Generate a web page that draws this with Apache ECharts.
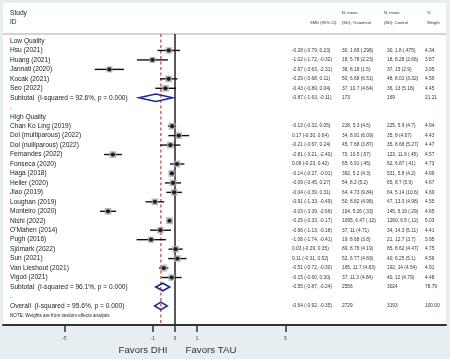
<!DOCTYPE html>
<html><head><meta charset="utf-8">
<script src="https://cdn.jsdelivr.net/npm/echarts@6/dist/echarts.min.js"></script>
<style>
html,body{margin:0;padding:0;background:#e7eef1;}
#panel{position:absolute;left:3px;top:3px;width:443px;height:322px;background:#fff;}
#c{position:absolute;left:0;top:0;width:450px;height:359px;}
</style>
</head><body><div id="panel"></div><div id="c"></div>
<script>
// ---- Data ----
const lowStudies = ["Hsu (2021)", "Huang (2021)", "Jannati (2020)", "Kocak (2021)", "Seo (2022)"];
const lowSmd = [-0.28, -1.02, -2.97, -0.29, -0.43];
const lowLo = [-0.79, -1.72, -3.63, -0.68, -0.89];
const lowHi = [0.23, -0.32, -2.31, 0.11, 0.04];
const lowTreat = ["30, 1.69 (.298)", "18, 5.78 (2.23)", "38, 8.18 (1.5)", "50, 6.68 (6.51)", "37, 10.7 (4.64)"];
const lowCtrl = ["30, 1.8 (.475)", "18, 8.28 (2.66)", "37, 15 (2.9)", "48, 8.01 (3.32)", "36, 13 (5.18)"];
const lowWeight = [4.34, 3.87, 3.95, 4.59, 4.45];
const lowSubtotal = {label: "Subtotal  (I-squared = 92.6%, p = 0.000)", est: -0.87, lo: -1.63, hi: -0.11, treat: "173", ctrl: "169", w: 21.21};

const highStudies = ["Chan Ko Ling (2019)", "Dol (multiparous) (2022)", "Dol (nulliparous) (2022)", "Fernandes (2022)", "Fonseca (2020)", "Haga (2018)", "Heller (2020)", "Jiao (2019)", "Loughan (2019)", "Monteiro (2020)", "Nishi (2022)", "O'Mahen (2014)", "Pugh (2016)", "Sjömark (2022)", "Sun (2021)", "Van Lieshout (2021)", "Vigod (2021)"];
const highSmd = [-0.13, 0.17, -0.21, -2.81, 0.09, -0.14, -0.09, -0.04, -0.91, -3.03, -0.25, -0.66, -1.08, 0.03, 0.11, -0.51, -0.15];
const highLo = [-0.32, -0.30, -0.67, -3.21, -0.23, -0.27, -0.45, -0.39, -1.33, -3.39, -0.33, -1.13, -1.74, -0.29, -0.31, -0.72, -0.60];
const highHi = [0.05, 0.64, 0.24, -2.40, 0.42, -0.01, 0.27, 0.31, -0.49, -2.66, -0.17, -0.18, -0.41, 0.35, 0.52, -0.30, 0.30];
const highTreat = ["218, 5.3 (4.6)", "34, 8.91 (6.09)", "45, 7.68 (3.87)", "70, 10.5 (.57)", "65, 6.91 (.45)", "392, 5.2 (4.3)", "54, 8.2 (5.2)", "64, 4.73 (9.84)", "50, 8.82 (4.98)", "104, 5.26 (.33)", "1095, 6.47 (.12)", "37, 11 (4.71)", "19, 8.68 (3.8)", "89, 8.76 (4.19)", "52, 6.77 (4.69)", "165, 11.7 (4.83)", "37, 11.3 (4.84)"];
const highCtrl = ["225, 5.9 (4.7)", "35, 8 (4.67)", "35, 8.68 (5.27)", "123, 11.9 (.45)", "62, 6.87 (.41)", "531, 5.8 (4.2)", "65, 8.7 (5.9)", "64, 5.14 (10.6)", "47, 13.3 (4.98)", "145, 6.19 (.29)", "1260, 6.5 (.12)", "34, 14.3 (5.11)", "21, 12.7 (3.7)", "85, 8.62 (4.47)", "40, 6.25 (5.1)", "192, 14 (4.54)", "40, 12 (4.79)"];
const highWeight = [4.94, 4.43, 4.47, 4.57, 4.73, 4.99, 4.67, 4.69, 4.55, 4.65, 5.03, 4.41, 3.95, 4.75, 4.56, 4.91, 4.48];
const highSubtotal = {label: "Subtotal  (I-squared = 96.1%, p = 0.000)", est: -0.55, lo: -0.87, hi: -0.24, treat: "2556", ctrl: "3024", w: 78.79};

const overall = {label: "Overall  (I-squared = 95.6%, p = 0.000)", est: -0.64, lo: -0.92, hi: -0.35, treat: "2729", ctrl: "3193", w: 100.00};
const noteText = "NOTE: Weights are from random effects analysis";
const tickValues = [-5, -1, 0, 1, 5];

// ---- Build rows ----
const rows = [];
function addGroup(name, studies, smd, lo, hi, tr, ct, w, sub) {
  rows.push({kind: 'group', label: name});
  studies.forEach((s, i) => rows.push({kind: 'study', label: s, est: smd[i], lo: lo[i], hi: hi[i], treat: tr[i], ctrl: ct[i], w: w[i]}));
  rows.push(Object.assign({kind: 'sub'}, sub));
  rows.push({kind: 'blank', label: '.'});
}
addGroup('Low Quality', lowStudies, lowSmd, lowLo, lowHi, lowTreat, lowCtrl, lowWeight, lowSubtotal);
addGroup('High Quality', highStudies, highSmd, highLo, highHi, highTreat, highCtrl, highWeight, highSubtotal);
rows.push(Object.assign({kind: 'overall'}, overall));
rows.push({kind: 'note', label: noteText});

const FF = '"Liberation Sans", Arial, sans-serif';
const yTop = -0.74, yBot = 30.02;
const fmt = v => v.toFixed(2);

const studyIdx = [], diaIdx = [];
rows.forEach((r, i) => {
  if (r.kind === 'study') studyIdx.push(i);
  if (r.kind === 'sub' || r.kind === 'overall') diaIdx.push(i);
});

const HF = 4.1; // header column font
const hdr = (text, x, y) => ({type: 'text', x: x, y: y, style: {text: text, fontSize: HF, fontFamily: FF, fill: '#333', verticalAlign: 'middle'}});

const chart = echarts.init(document.getElementById('c'), null, {renderer: 'canvas'});
chart.setOption({
  backgroundColor: 'transparent',
  animation: false,
  grid: {left: 3, right: 4, top: 3, height: 322, containLabel: false},
  xAxis: {
    type: 'value', min: -7.783, max: 12.262,
    splitLine: {show: false},
    axisLine: {show: true, onZero: false, lineStyle: {color: '#333', width: 2}},
    axisTick: {show: true, customValues: tickValues, length: 7, lineStyle: {color: '#333', width: 1.5}},
    axisLabel: {show: true, customValues: tickValues, fontSize: 4.5, margin: 11, color: '#333', fontFamily: FF}
  },
  yAxis: {type: 'value', inverse: true, min: -4.017, max: 30.02, show: false},
  graphic: [
    {type: 'line', shape: {x1: 3, y1: 34, x2: 446, y2: 34}, style: {stroke: '#c4c4c4', lineWidth: 1.5}, silent: true},
    {type: 'text', x: 10, y: 13, style: {text: 'Study', fontSize: 6.6, fontFamily: FF, fill: '#222', verticalAlign: 'middle'}},
    {type: 'text', x: 10, y: 22, style: {text: 'ID', fontSize: 6.6, fontFamily: FF, fill: '#222', verticalAlign: 'middle'}},
    hdr('SMD (95% CI)', 310, 23),
    hdr('N, mean', 342, 12.5),
    hdr('(SD); Treatment', 342, 23),
    hdr('N, mean', 384, 12.5),
    hdr('(SD); Control', 384, 23),
    hdr('%', 427, 12.5),
    hdr('Weight', 427, 23),
    {type: 'text', x: 143, y: 350, style: {text: 'Favors DHI', fontSize: 9.7, fontFamily: FF, fill: '#333', align: 'center', verticalAlign: 'middle'}},
    {type: 'text', x: 211, y: 350, style: {text: 'Favors TAU', fontSize: 9.7, fontFamily: FF, fill: '#333', align: 'center', verticalAlign: 'middle'}}
  ],
  series: [
    {type: 'line', silent: true, symbol: 'none', data: [[0, yTop], [0, yBot]], lineStyle: {color: '#222', width: 1.5}, z: 1},
    {type: 'line', silent: true, symbol: 'none', data: [[overall.est, yTop], [overall.est, yBot]], lineStyle: {color: '#c0504d', width: 1.3, type: [3, 2.5]}, z: 1},
    {
      type: 'custom', silent: true, z: 3,
      data: studyIdx.map(i => [rows[i].lo, rows[i].hi, i]),
      encode: {x: [0, 1], y: 2},
      renderItem: (p, api) => {
        const a = api.coord([api.value(0), api.value(2)]);
        const b = api.coord([api.value(1), api.value(2)]);
        return {type: 'line', shape: {x1: a[0], y1: a[1], x2: b[0], y2: b[1]}, style: {stroke: '#111', lineWidth: 1.4}};
      }
    },
    {
      type: 'scatter', silent: true, z: 4, symbol: 'rect',
      data: studyIdx.map(i => [rows[i].est, i, rows[i].w]),
      symbolSize: v => 3.1 * Math.sqrt(v[2]),
      itemStyle: {color: '#a8a8a8'}
    },
    {
      type: 'scatter', silent: true, z: 5, symbol: 'circle', symbolSize: 4.2,
      data: studyIdx.map(i => [rows[i].est, i]),
      itemStyle: {color: '#000'}
    },
    {
      type: 'custom', silent: true, z: 5,
      data: diaIdx.map(i => [rows[i].est, rows[i].lo, rows[i].hi, i]),
      encode: {x: [0, 1, 2], y: 3},
      renderItem: (p, api) => {
        const r = api.value(3);
        const pts = [
          api.coord([api.value(1), r]),
          api.coord([api.value(0), r - 0.4]),
          api.coord([api.value(2), r]),
          api.coord([api.value(0), r + 0.4])
        ];
        return {type: 'polygon', shape: {points: pts}, style: {fill: 'none', stroke: '#1c2a8c', lineWidth: 1.6}};
      }
    },
    {
      type: 'custom', silent: true, z: 6,
      data: rows.map((r, i) => [0, i]),
      encode: {x: 0, y: 1},
      renderItem: (p, api) => {
        const r = rows[p.dataIndex];
        const y = api.coord([0, p.dataIndex])[1];
        const kids = [];
        const big = {fontFamily: FF, fill: '#222', verticalAlign: 'middle', align: 'left'};
        const small = {fontFamily: FF, fill: '#333', verticalAlign: 'middle', align: 'left', fontSize: 4.8};
        kids.push({type: 'text', style: Object.assign({}, big, {text: r.label, x: 10, y: y, fontSize: r.kind === 'note' ? 4.6 : 6.6})});
        if (r.est !== undefined) {
          kids.push({type: 'text', style: Object.assign({}, small, {text: fmt(r.est) + ' (' + fmt(r.lo) + ', ' + fmt(r.hi) + ')', x: 292, y: y})});
          kids.push({type: 'text', style: Object.assign({}, small, {text: r.treat, x: 342, y: y})});
          kids.push({type: 'text', style: Object.assign({}, small, {text: r.ctrl, x: 387, y: y})});
          kids.push({type: 'text', style: Object.assign({}, small, {text: fmt(r.w), x: 425, y: y})});
        }
        return {type: 'group', children: kids};
      }
    }
  ]
});
</script>
</body></html>
